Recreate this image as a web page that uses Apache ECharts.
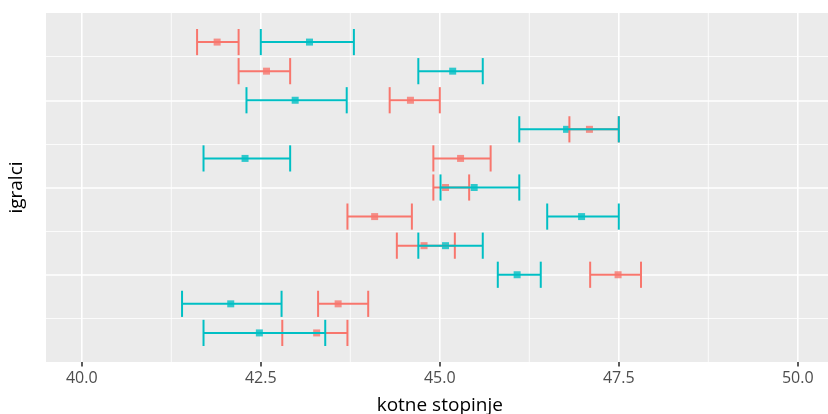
<!DOCTYPE html>
<html>
<head>
<meta charset="utf-8">
<script src="https://cdn.jsdelivr.net/npm/echarts@6/dist/echarts.min.js"></script>
<style>
html,body{margin:0;padding:0;background:#fff;}
#chart{width:828px;height:414px;}
</style>
</head>
<body>
<div id="chart"></div>
<script>
// player positions on the y axis (1 = bottom)
const players = [1, 2, 3, 4, 5, 6, 7, 8, 9, 10, 11];
// red group
const redMean = [43.28, 43.58, 47.49, 44.78, 44.09, 45.08, 45.29, 47.09, 44.59, 42.58, 41.89];
const redLow  = [42.80, 43.30, 47.10, 44.40, 43.71, 44.91, 44.91, 46.81, 44.30, 42.19, 41.61];
const redHigh = [43.71, 44.00, 47.81, 45.21, 44.61, 45.41, 45.71, 47.50, 45.00, 42.91, 42.19];
// cyan group
const cyanMean = [42.48, 42.08, 46.08, 45.08, 46.98, 45.48, 42.28, 46.77, 42.98, 45.18, 43.18];
const cyanLow  = [41.70, 41.40, 45.81, 44.70, 46.50, 45.01, 41.70, 46.11, 42.30, 44.70, 42.50];
const cyanHigh = [43.40, 42.79, 46.41, 45.60, 47.50, 46.11, 42.91, 47.50, 43.70, 45.60, 43.80];
// x axis ticks
const xMajor = [40.0, 42.5, 45.0, 47.5, 50.0];
const xMinor = [41.25, 43.75, 46.25, 48.75];
const xTickLabels = ['40.0', '42.5', '45.0', '47.5', '50.0'];

const RED = '#F8766D', CYAN = '#00BFC4';
const FONT = 'Open Sans';

function errData(low, high) {
  return players.map((p, i) => [p, low[i], high[i]]);
}
function pointData(mean) {
  return players.map((p, i) => [mean[i], p]);
}
function errRender(color) {
  return function (params, api) {
    const y = api.value(0), lo = api.value(1), hi = api.value(2);
    const a = api.coord([lo, y]);
    const b = api.coord([hi, y]);
    const h = api.size([0, 0.9])[1] / 2;
    const style = { stroke: color, lineWidth: 2 };
    return {
      type: 'group',
      children: [
        { type: 'line', shape: { x1: a[0], y1: a[1], x2: b[0], y2: b[1] }, style: style },
        { type: 'line', shape: { x1: a[0], y1: a[1] - h, x2: a[0], y2: a[1] + h }, style: style },
        { type: 'line', shape: { x1: b[0], y1: b[1] - h, x2: b[0], y2: b[1] + h }, style: style }
      ]
    };
  };
}
// vertical grid lines drawn through the x axis scale
const vGrid = xMajor.map(v => [v, 1.6]).concat(xMinor.map(v => [v, 0.8]));
function gridRender(params, api) {
  const cs = params.coordSys;
  const x = api.coord([api.value(0), 0])[0];
  return {
    type: 'line',
    shape: { x1: x, y1: cs.y, x2: x, y2: cs.y + cs.height },
    style: { stroke: '#FFFFFF', lineWidth: api.value(1) }
  };
}

const chart = echarts.init(document.getElementById('chart'), null, { renderer: 'canvas' });

chart.setOption({
  animation: false,
  grid: {
    left: 46, top: 13, width: 787.6, height: 349,
    outerBoundsMode: 'none', containLabel: false,
    show: true, backgroundColor: '#EBEBEB', borderWidth: 0
  },
  xAxis: {
    type: 'value', min: 39.5, max: 50.5,
    name: 'kotne stopinje', nameLocation: 'middle', nameGap: 34,
    nameTextStyle: { fontFamily: FONT, fontSize: 19, color: '#000000' },
    axisLine: { show: false },
    axisTick: { show: true, length: 4.5, customValues: xMajor, lineStyle: { color: '#333333', width: 1.6 } },
    axisLabel: {
      show: true, customValues: xMajor, margin: 8,
      fontFamily: FONT, fontSize: 16, color: '#4D4D4D',
      formatter: v => xTickLabels[xMajor.indexOf(v)] !== undefined ? xTickLabels[xMajor.indexOf(v)] : ''
    },
    splitLine: { show: false }
  },
  yAxis: {
    type: 'value', min: 0, max: 12, interval: 3,
    name: 'igralci', nameLocation: 'middle', nameGap: 20, nameRotate: 90,
    nameTextStyle: { fontFamily: FONT, fontSize: 19, color: '#000000' },
    axisLine: { show: false },
    axisTick: { show: false },
    axisLabel: { show: false },
    splitLine: { show: true, showMinLine: false, showMaxLine: false, lineStyle: { color: '#FFFFFF', width: 1.6 } },
    minorTick: { show: false, splitNumber: 2 },
    minorSplitLine: { show: true, lineStyle: { color: '#FFFFFF', width: 0.8 } }
  },
  series: [
    { type: 'custom', data: vGrid, renderItem: gridRender, encode: { x: 0 }, z: 1, silent: true, clip: true },
    { type: 'scatter', data: pointData(redMean), symbol: 'rect', symbolSize: 7, itemStyle: { color: RED }, z: 2, silent: true },
    { type: 'scatter', data: pointData(cyanMean), symbol: 'rect', symbolSize: 7, itemStyle: { color: CYAN }, z: 2, silent: true },
    { type: 'custom', data: errData(redLow, redHigh), renderItem: errRender(RED), encode: { x: [1, 2], y: 0 }, z: 3, silent: true },
    { type: 'custom', data: errData(cyanLow, cyanHigh), renderItem: errRender(CYAN), encode: { x: [1, 2], y: 0 }, z: 3, silent: true }
  ]
});
</script>
</body>
</html>
